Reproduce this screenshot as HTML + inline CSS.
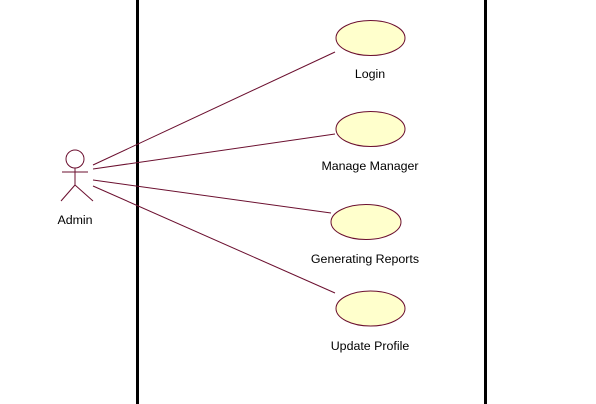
<!DOCTYPE html>
<html><head><style>body{margin:0;background:#fff}svg{display:block}text{font-family:"Liberation Sans",Arial,sans-serif;font-size:12.4px;fill:#000}</style></head>
<body>
<svg width="596" height="404" viewBox="0 0 596 404">
<rect x="136" y="0" width="3" height="404" fill="#000"/>
<rect x="484" y="0" width="3" height="404" fill="#000"/>
<g stroke="#6b0f2f" stroke-width="1" fill="none">
<line x1="93" y1="165" x2="335" y2="52"/>
<line x1="93" y1="169" x2="335" y2="134"/>
<line x1="93" y1="180" x2="331" y2="213"/>
<line x1="93" y1="186" x2="335" y2="293"/>
<circle cx="75" cy="159" r="9"/>
<line x1="75" y1="168" x2="75" y2="185"/>
<line x1="62" y1="172" x2="88" y2="172"/>
<line x1="75" y1="185" x2="61" y2="201"/>
<line x1="75" y1="185" x2="93" y2="201"/>
</g>
<g stroke="#6b0f2f" stroke-width="1" fill="#ffffcc">
<ellipse cx="370.5" cy="38" rx="34.5" ry="17.5"/>
<ellipse cx="370.5" cy="129" rx="34.5" ry="17.5"/>
<ellipse cx="366" cy="222" rx="35" ry="17.5"/>
<ellipse cx="370.5" cy="308.5" rx="34.5" ry="17.5"/>
</g>
<text x="75" y="224" text-anchor="middle">Admin</text>
<text x="370" y="78" text-anchor="middle">Login</text>
<text x="370" y="170" text-anchor="middle">Manage Manager</text>
<text x="365" y="263" text-anchor="middle">Generating Reports</text>
<text x="370" y="350" text-anchor="middle">Update Profile</text>
</svg>
</body></html>
